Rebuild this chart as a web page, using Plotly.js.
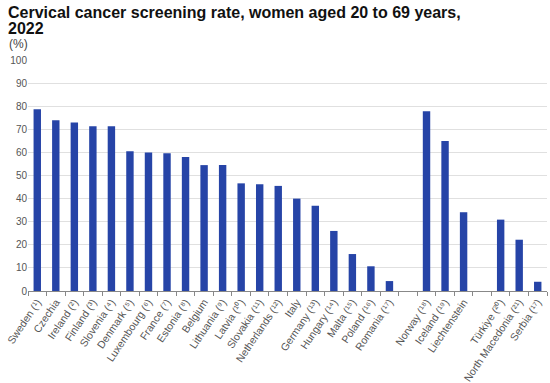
<!DOCTYPE html>
<html>
<head>
<meta charset="utf-8">
<script src="https://cdn.plot.ly/plotly-3.0.1.min.js"></script>
<style>
html,body{margin:0;padding:0;background:#fff;}
#chart{width:550px;height:383px;}
</style>
</head>
<body>
<div id="chart"></div>
<script>
const categories = [
  "Sweden (¹)", "Czechia", "Ireland (²)", "Finland (³)", "Slovenia (⁴)", "Denmark (⁵)",
  "Luxembourg (⁶)", "France (⁷)", "Estonia (⁸)", "Belgium", "Lithuania (⁹)", "Latvia (¹⁰)",
  "Slovakia (¹¹)", "Netherlands (¹²)", "Italy", "Germany (¹³)", "Hungary (¹⁴)", "Malta (¹⁵)",
  "Poland (¹⁶)", "Romania (¹⁷)", " ", "Norway (¹⁸)", "Iceland (¹⁹)", "Liechtenstein", "  ",
  "Türkiye (²⁰)", "North Macedonia (²¹)", "Serbia (¹⁷)"
];
const values = [
  78.7, 73.9, 72.9, 71.3, 71.3, 60.5,
  60.0, 59.6, 58.0, 54.5, 54.5, 46.6,
  46.2, 45.5, 40.0, 36.9, 26.0, 16.0,
  10.7, 4.3, null, 77.8, 64.9, 34.1, null,
  30.9, 22.2, 4.0
];
const yTicks = [0, 10, 20, 30, 40, 50, 60, 70, 80, 90, 100];
const titleLines = ["Cervical cancer screening rate, women aged 20 to 69 years,", "2022"];

const trace = {
  type: "bar",
  x: categories,
  y: values,
  marker: {color: "#2644a7"},
  hoverinfo: "x+y"
};

const font = "Liberation Sans, Arial, sans-serif";

const layout = {
  width: 550, height: 383,
  margin: {l: 28, r: 3, t: 60, b: 92},
  paper_bgcolor: "#fff", plot_bgcolor: "#fff",
  font: {family: font, color: "#555", size: 10},
  bargap: 0.6,
  showlegend: false,
  xaxis: {
    type: "category",
    categoryorder: "array",
    categoryarray: categories,
    tickangle: -56,
    tickfont: {size: 10.5, color: "#555"},
    showline: true, linecolor: "#888", linewidth: 1,
    ticks: "outside", ticklen: 4, tickcolor: "#888",
    tickson: "boundaries",
    showgrid: false,
    fixedrange: true
  },
  yaxis: {
    range: [0, 100],
    tickvals: yTicks,
    ticktext: yTicks.map(String),
    tickfont: {size: 10, color: "#555"},
    showgrid: true, gridcolor: "#e0e0e0", gridwidth: 1,
    zeroline: false, showline: false,
    ticks: "", ticklen: 0,
    fixedrange: true
  },
  annotations: [
    {
      text: "<b>" + titleLines[0] + "</b>", xref: "paper", yref: "paper",
      x: -0.042, y: 1.253, xanchor: "left", yanchor: "top",
      showarrow: false, font: {family: font, size: 16, color: "#111"}
    },
    {
      text: "<b>" + titleLines[1] + "</b>", xref: "paper", yref: "paper",
      x: -0.042, y: 1.183, xanchor: "left", yanchor: "top",
      showarrow: false, font: {family: font, size: 16, color: "#111"}
    },
    {
      text: "(%)", xref: "paper", yref: "paper",
      x: -0.04, y: 1.03, xanchor: "left", yanchor: "bottom",
      showarrow: false, font: {family: font, size: 12, color: "#444"}
    }
  ]
};

Plotly.newPlot("chart", [trace], layout, {displayModeBar: false, staticPlot: true});
</script>
</body>
</html>
